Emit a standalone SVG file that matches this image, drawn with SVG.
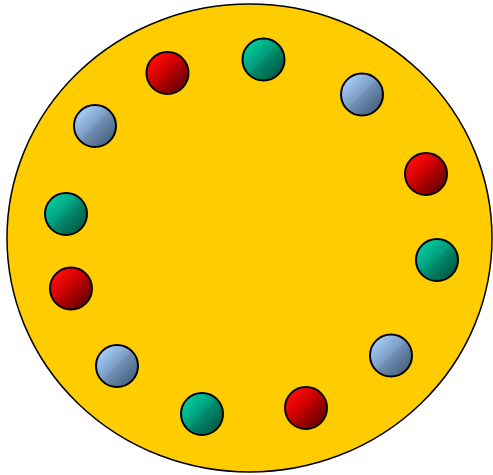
<svg xmlns="http://www.w3.org/2000/svg" width="493" height="475" viewBox="0 0 493 475">
<defs>
<linearGradient id="gRed" x1="0.15" y1="0.15" x2="0.85" y2="0.85">
<stop offset="0" stop-color="#ff0a0a"/>
<stop offset="0.5" stop-color="#c40000"/>
<stop offset="0.5" stop-color="#ba0000"/>
<stop offset="1" stop-color="#6e0000"/>
</linearGradient>
<linearGradient id="gGreen" x1="0.15" y1="0.15" x2="0.85" y2="0.85">
<stop offset="0" stop-color="#00cc9c"/>
<stop offset="0.5" stop-color="#009676"/>
<stop offset="0.5" stop-color="#008e6e"/>
<stop offset="1" stop-color="#005c46"/>
</linearGradient>
<linearGradient id="gBlue" x1="0.15" y1="0.15" x2="0.85" y2="0.85">
<stop offset="0" stop-color="#a4ccf8"/>
<stop offset="0.5" stop-color="#7898c0"/>
<stop offset="0.5" stop-color="#7090b6"/>
<stop offset="1" stop-color="#4a6480"/>
</linearGradient>
</defs>
<style>
.ball{stroke:#000;stroke-width:2}
.r{fill:url(#gRed)}
.g{fill:url(#gGreen)}
.b{fill:url(#gBlue)}
</style>
<g id="plate">
<ellipse cx="249.5" cy="238" rx="242.5" ry="234" fill="#ffcc00" stroke="#000" stroke-width="1.5"/>
</g>
<g id="ball1"><circle class="ball r" cx="167.5" cy="73" r="21"/></g>
<g id="ball2"><circle class="ball g" cx="263.5" cy="59.5" r="21"/></g>
<g id="ball3"><circle class="ball b" cx="362" cy="94.5" r="21"/></g>
<g id="ball4"><circle class="ball b" cx="95" cy="126" r="21"/></g>
<g id="ball5"><circle class="ball r" cx="426" cy="174" r="21"/></g>
<g id="ball6"><circle class="ball g" cx="66" cy="214" r="21"/></g>
<g id="ball7"><circle class="ball g" cx="437" cy="260" r="21"/></g>
<g id="ball8"><circle class="ball r" cx="71" cy="288.5" r="21"/></g>
<g id="ball9"><circle class="ball b" cx="117" cy="366" r="21"/></g>
<g id="ball10"><circle class="ball b" cx="391" cy="355.5" r="21"/></g>
<g id="ball11"><circle class="ball g" cx="202" cy="414" r="21"/></g>
<g id="ball12"><circle class="ball r" cx="306" cy="408" r="21"/></g>
<g id="connectors"/>
</svg>
